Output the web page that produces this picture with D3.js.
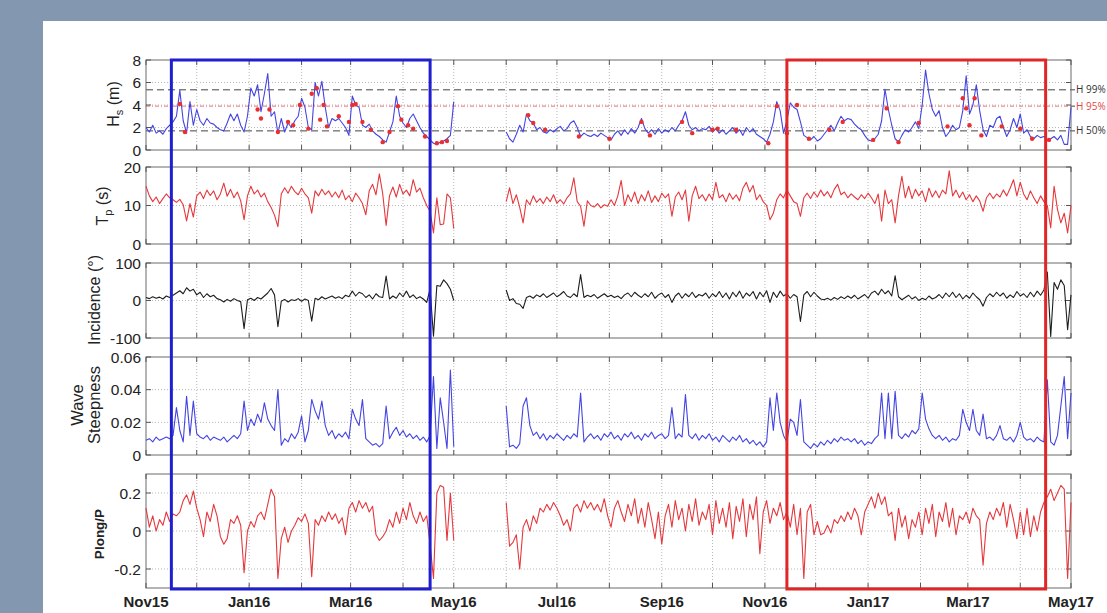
<!doctype html>
<html lang="en">
<head>
<meta charset="utf-8">
<title>Wave conditions Nov15 - May17</title>
<style>
  body { margin: 0; background: #8497b0; }
  svg { display: block; font-family: Arial, "Liberation Sans", sans-serif; }
</style>
</head>
<body>
<script src="https://d3js.org/d3.v7.min.js"></script>
<script>
// record is in two pieces (no data in May 2016), one sample every 2 days
var segStarts = ['2015-11-01', '2016-06-01'];
var stepDays = 2;

// significant wave height Hs (m)
var hsA = [2.0,1.6,2.2,1.5,1.7,1.4,1.9,2.2,2.5,3.0,
  5.3,2.6,1.5,4.3,2.2,3.6,2.6,2.2,2.8,2.4,
  2.3,2.0,1.8,1.7,2.4,3.2,2.6,3.2,2.2,1.6,
  3.0,5.5,4.8,5.8,3.4,5.0,6.8,3.0,3.4,1.5,
  2.8,1.6,2.4,2.0,2.6,3.0,4.6,3.8,2.0,1.8,
  6.0,4.8,6.1,3.8,2.0,2.8,2.6,2.8,2.4,2.0,
  1.3,4.8,4.0,3.8,2.2,2.0,2.3,1.7,1.4,1.2,
  0.9,0.7,1.6,2.5,4.8,3.0,2.4,2.0,2.8,3.2,
  2.6,2.0,1.5,1.2,0.9,0.6,0.5,0.7,0.8,1.0,
  1.3,4.3];
var hsB = [1.6,1.0,0.7,1.4,2.2,1.6,3.2,2.6,2.4,1.8,
  2.0,1.6,1.5,1.8,1.6,1.9,2.1,1.7,1.9,2.4,
  2.6,2.0,1.2,1.5,1.3,1.2,1.4,1.2,1.5,1.3,
  1.1,0.9,1.4,1.7,1.3,1.8,1.4,1.9,1.5,2.0,
  2.8,1.9,1.5,1.8,1.4,1.9,1.5,1.8,1.6,2.0,
  1.7,2.2,2.6,3.4,2.2,1.8,2.0,1.7,1.9,1.8,
  2.1,1.6,1.9,1.5,1.8,1.4,1.7,2.0,1.5,1.8,
  1.3,2.0,1.6,1.9,1.4,1.2,1.0,0.7,1.4,2.5,
  4.3,3.5,1.5,2.6,4.2,3.8,3.6,2.5,1.3,1.1,
  0.9,1.2,0.8,1.0,1.4,1.8,2.2,1.7,2.4,3.0,
  2.6,2.8,2.7,2.3,2.0,1.8,1.3,0.9,0.8,1.0,
  1.4,2.6,5.4,3.6,2.2,1.0,0.7,1.3,1.8,1.6,
  2.0,2.5,1.9,4.0,7.1,5.0,3.6,3.0,3.5,2.0,
  1.2,1.6,2.2,1.8,2.0,3.5,6.6,3.2,4.0,5.8,
  3.5,1.8,1.2,2.2,2.0,2.8,3.0,2.0,1.2,1.8,
  2.8,2.0,3.2,1.5,1.8,1.2,1.0,1.3,1.1,1.2,
  0.9,1.0,1.2,0.9,1.3,0.5,0.5,3.8];

// storm peaks marked on the Hs panel
var peakDates = ['2015-11-21','2015-11-24','2016-01-06','2016-01-08','2016-01-13','2016-01-18',
  '2016-01-24','2016-01-27','2016-01-31','2016-02-05','2016-02-07','2016-02-10','2016-02-12',
  '2016-02-14','2016-02-16','2016-02-23','2016-02-29','2016-03-02','2016-03-04','2016-03-08',
  '2016-03-13','2016-03-20','2016-03-24','2016-03-29','2016-03-31','2016-04-04','2016-04-07',
  '2016-04-14','2016-04-21','2016-04-24','2016-04-27',
  '2016-06-14','2016-06-17','2016-06-24','2016-07-14','2016-08-01','2016-08-20','2016-08-25',
  '2016-09-13','2016-09-19','2016-10-01','2016-10-04','2016-10-15','2016-11-03','2016-11-08',
  '2016-11-14','2016-11-20','2016-11-27','2016-12-09','2016-12-17','2017-01-04','2017-01-12',
  '2017-01-19','2017-01-31','2017-02-17','2017-02-26','2017-02-28','2017-03-02','2017-03-05',
  '2017-03-09','2017-03-21','2017-04-01','2017-04-08','2017-04-18'];
var peakValues = [4.1,1.6,3.6,2.8,3.6,1.6,
  2.5,2.2,4.0,1.9,5.0,5.5,2.7,
  4.0,2.1,3.0,2.5,4.0,4.1,2.5,
  1.8,0.7,1.6,3.9,2.7,2.2,1.9,
  1.2,0.6,0.7,0.8,
  3.1,2.4,1.8,1.2,1.0,2.5,1.3,
  2.5,1.5,1.8,1.9,1.8,0.6,3.9,
  1.5,4.0,1.0,1.8,2.5,0.9,3.7,
  0.7,2.4,2.1,4.6,3.7,2.2,4.6,
  1.3,2.1,1.9,1.0,0.9];

// Hs percentiles
var hsLevelNames = ['H 99%', 'H 95%', 'H 50%'];
var hsLevelValues = [5.35, 3.9, 1.7];

// peak period Tp (s)
var tpA = [15.0,12.5,11.0,12.2,10.5,11.8,13.0,12.0,11.5,10.8,
  11.6,10.2,6.0,10.5,7.0,12.5,13.5,11.8,14.0,12.6,
  13.8,11.5,13.0,15.8,12.4,14.2,12.0,13.5,11.2,6.3,
  12.5,15.0,13.0,14.0,12.2,13.2,11.0,9.5,7.5,4.5,
  13.0,14.6,13.2,15.0,13.6,12.8,14.5,13.0,12.0,8.0,
  13.8,12.5,14.2,12.8,13.8,12.2,13.5,12.0,14.0,11.5,
  12.6,11.0,13.2,12.0,10.5,7.6,13.8,15.5,12.8,18.2,
  13.0,4.8,12.5,14.8,12.2,15.5,13.0,14.0,12.5,16.7,
  13.5,14.5,12.0,10.0,8.5,2.9,12.0,5.0,5.2,13.0,
  12.0,4.0];
var tpB = [11.0,14.6,10.5,12.8,9.5,5.5,11.5,10.2,12.5,10.8,
  11.8,10.5,12.2,11.0,12.8,10.6,11.5,10.4,12.0,13.0,
  17.2,11.0,9.8,4.6,11.2,10.0,9.6,10.5,9.4,10.2,
  9.8,11.5,10.0,12.5,16.5,10.0,12.8,11.0,13.5,10.5,
  12.8,11.2,13.8,10.8,12.5,11.0,13.2,12.0,13.0,7.2,
  12.2,13.5,11.5,14.0,5.9,12.5,15.0,11.8,12.8,11.2,
  13.0,11.5,16.0,12.0,12.8,11.0,13.2,11.6,12.8,11.2,
  14.5,16.0,13.5,15.2,11.5,12.8,11.0,10.0,6.3,8.0,
  11.5,13.0,12.0,14.0,12.5,11.0,10.5,7.2,12.0,13.2,
  11.8,13.5,12.2,14.0,12.5,13.6,12.0,14.2,15.5,12.8,
  13.5,12.0,13.0,12.2,11.5,12.8,11.8,13.2,12.0,10.5,
  13.0,5.9,14.0,10.5,11.5,5.5,12.5,17.6,12.0,15.0,
  11.8,14.2,12.5,13.8,11.0,14.5,12.2,13.8,12.0,14.0,
  13.0,19.0,12.5,14.0,12.0,13.5,11.5,12.8,11.0,12.5,
  11.2,8.5,12.0,13.2,11.8,13.0,12.2,14.0,12.5,14.5,
  16.7,12.5,16.0,13.0,11.5,13.8,12.0,10.5,12.5,11.0,
  10.0,4.2,15.0,9.0,5.5,8.0,2.9,10.0];

// wave incidence (deg)
var incA = [8,5,10,6,9,4,12,8,14,20,
  26,18,34,25,30,15,22,8,18,10,
  14,5,2,-4,3,-2,5,0,-3,-75,
  2,6,0,8,4,12,20,32,15,-70,
  -2,3,-4,2,0,5,-2,4,0,-55,
  6,2,10,4,8,12,6,10,5,14,
  10,25,12,22,18,8,15,4,18,10,
  8,65,4,12,6,20,10,25,8,15,
  5,10,4,-5,30,-95,40,38,55,45,
  30,0];
var incB = [28,0,5,-8,-10,-21,8,12,6,15,
  10,18,8,14,20,10,16,24,12,8,
  18,10,69,8,14,10,16,6,12,18,
  10,14,8,12,5,15,20,10,22,14,
  8,18,10,22,6,15,20,8,16,-5,
  12,20,6,18,10,22,8,16,12,20,
  6,18,10,24,8,20,4,22,10,25,
  6,20,12,24,4,22,10,26,-5,22,
  8,25,12,18,6,16,10,-56,15,24,
  10,22,12,4,2,6,1,8,3,10,
  5,12,6,14,4,10,16,6,20,25,
  15,30,18,26,12,66,10,2,8,14,
  4,10,0,6,2,12,4,8,16,6,
  20,10,22,8,18,4,14,6,20,10,
  2,-15,8,18,10,22,12,20,6,15,
  8,24,12,18,8,22,10,25,14,28,
  76,-96,48,30,55,40,-78,15];

// wave steepness
var stA = [.009,.010,.008,.011,.009,.010,.011,.010,.012,.029,
  .015,.008,.036,.012,.033,.013,.011,.010,.012,.009,
  .011,.010,.009,.011,.008,.010,.012,.010,.013,.033,
  .015,.022,.018,.025,.020,.032,.022,.018,.015,.040,
  .006,.010,.008,.013,.010,.014,.024,.008,.015,.034,
  .027,.022,.033,.018,.012,.015,.010,.013,.011,.014,
  .010,.028,.022,.018,.034,.010,.008,.006,.007,.005,
  .007,.030,.010,.014,.017,.012,.015,.011,.013,.010,
  .012,.009,.011,.008,.012,.048,.004,.035,.020,.004,
  .052,.005];
var stB = [.030,.005,.006,.004,.007,.030,.035,.018,.012,.014,
  .010,.013,.009,.012,.010,.013,.011,.009,.012,.010,
  .013,.011,.038,.008,.011,.013,.010,.012,.009,.013,
  .011,.014,.010,.012,.009,.013,.011,.014,.010,.012,
  .009,.013,.011,.014,.010,.012,.013,.010,.012,.029,
  .010,.013,.011,.037,.012,.010,.013,.009,.012,.010,
  .013,.009,.011,.008,.012,.010,.008,.011,.009,.012,
  .008,.010,.007,.009,.006,.008,.005,.008,.035,.015,
  .038,.020,.012,.008,.022,.020,.012,.034,.008,.006,
  .004,.007,.005,.008,.006,.009,.007,.010,.008,.011,
  .009,.010,.008,.010,.007,.009,.006,.008,.007,.010,
  .012,.038,.010,.038,.010,.039,.012,.010,.013,.011,
  .015,.013,.016,.038,.022,.016,.012,.010,.012,.009,
  .011,.008,.010,.009,.012,.028,.020,.015,.028,.015,
  .012,.025,.010,.011,.009,.012,.018,.010,.009,.011,
  .008,.012,.020,.011,.009,.010,.008,.011,.009,.008,
  .046,.008,.006,.012,.030,.048,.010,.038];

// longshore power ratio Plong/P
var plA = [.12,.02,.08,.00,.06,.03,.10,.05,.09,.08,
  .10,.16,.19,.14,.21,.12,.06,-.03,.10,.05,
  .14,.08,-.03,-.07,-.04,.06,.04,.08,.03,-.22,
  .00,.05,.02,.08,.10,.06,.14,.22,.18,-.25,
  -.04,.02,-.06,.00,.03,.07,.05,.09,.04,-.24,
  .06,.03,.08,.05,.10,.06,.09,.04,.07,-.02,
  .12,.15,.10,.16,.12,.15,.10,.13,-.02,-.05,
  -.03,.00,.06,.02,.10,.04,.12,.06,.15,.08,
  .04,.10,.05,.08,-.07,-.25,.20,.24,.23,-.05,
  .20,-.05];
var plB = [.15,-.08,-.06,-.02,-.20,.02,.06,.00,.08,.04,
  .12,.10,.14,.11,.15,.12,.08,.03,.06,.00,
  .12,.14,.10,.16,.12,.15,.11,.14,.10,.17,
  .08,.02,.12,.16,.10,.05,.14,.08,.17,.04,
  .12,.02,.15,.06,-.04,.10,-.07,.08,.14,.02,
  .16,.06,.12,.00,.14,.05,.17,.03,.10,.06,
  .14,-.02,.16,.04,.12,.02,.15,-.04,.13,.05,
  .17,-.03,.14,.06,.18,-.12,.10,.16,.04,.12,
  .08,.15,.06,.10,.02,.14,-.02,.12,-.25,.10,
  .14,-.02,.05,-.02,-.01,.03,-.01,.06,.04,.08,
  .05,.10,.06,.12,.08,-.02,.10,.14,.18,.12,
  .20,.14,.18,.08,.10,-.05,.12,.02,.08,-.04,
  .06,.02,.10,-.02,.12,.04,.14,-.03,.10,.05,
  .15,.02,.12,-.02,.08,.06,.10,.04,.12,.08,
  .06,-.18,.04,.10,.06,.12,.08,.15,.02,.14,
  .06,-.04,.10,-.02,.12,-.03,.08,.00,.10,.15,
  .18,.22,.16,.20,.24,.22,-.25,.15];

// winter periods boxed on the figure
var boxStarts = ['2015-11-16', '2016-11-14'];
var boxEnds = ['2016-04-17', '2017-04-16'];
var boxColors = ['#1f1fd0', '#e02626'];

var W = 1107, H = 613;
var parseDate = d3.timeParse('%Y-%m-%d');

var svg = d3.select('body').append('svg')
    .attr('width', W)
    .attr('height', H);

// white sheet over the slate background
svg.append('rect')
    .attr('x', 43).attr('y', 21)
    .attr('width', W - 43).attr('height', H - 21)
    .attr('fill', '#fff');

var x = d3.scaleTime()
    .domain([parseDate('2015-11-01'), parseDate('2017-05-01')])
    .range([146, 1071]);

var months = d3.timeMonth.range(x.domain()[0], d3.timeDay.offset(x.domain()[1], 1));

function toPoints(start, values) {
  var t0 = parseDate(start);
  return values.map(function(v, i) {
    return { date: d3.timeDay.offset(t0, i * stepDays), v: v };
  });
}

var panels = [
  { top: 60, bottom: 150, domain: [0, 8], ticks: [0, 2, 4, 6, 8], series: [hsA, hsB], color: '#4444e2' },
  { top: 167, bottom: 244, domain: [0, 20], ticks: [0, 10, 20], series: [tpA, tpB], color: '#e5383c' },
  { top: 263, bottom: 338, domain: [-100, 100], ticks: [-100, 0, 100], series: [incA, incB], color: '#1e1e1e' },
  { top: 357, bottom: 455, domain: [0, 0.06], ticks: [0, 0.02, 0.04, 0.06], series: [stA, stB], color: '#4444e2' },
  { top: 474, bottom: 588, domain: [-0.3, 0.3], ticks: [-0.2, 0, 0.2], series: [plA, plB], color: '#e5383c' }
];

var x0 = x.range()[0], x1 = x.range()[1];

panels.forEach(function(p, pi) {
  var y = d3.scaleLinear().domain(p.domain).range([p.bottom, p.top]);
  var g = svg.append('g');

  // dotted grid
  g.selectAll('.vgrid').data(months.slice(1, -1)).enter().append('line')
      .attr('x1', function(d) { return x(d); }).attr('x2', function(d) { return x(d); })
      .attr('y1', p.top).attr('y2', p.bottom)
      .attr('stroke', '#b8b8b8').attr('stroke-dasharray', '1,2');
  g.selectAll('.hgrid').data(p.ticks.filter(function(t) { return y(t) > p.top + 1 && y(t) < p.bottom - 1; }))
    .enter().append('line')
      .attr('x1', x0).attr('x2', x1)
      .attr('y1', function(d) { return y(d); }).attr('y2', function(d) { return y(d); })
      .attr('stroke', '#b8b8b8').attr('stroke-dasharray', '1,2');

  // Hs percentile lines
  if (pi === 0) {
    hsLevelValues.forEach(function(v, i) {
      var c = i === 1 ? '#ee7070' : '#444';
      g.append('line')
          .attr('x1', x0).attr('x2', x1)
          .attr('y1', y(v)).attr('y2', y(v))
          .attr('stroke', c).attr('stroke-width', 1)
          .attr('stroke-dasharray', i === 1 ? '4,2,1,2' : '7,4');
      g.append('line')
          .attr('x1', x1).attr('x2', x1 + 4)
          .attr('y1', y(v)).attr('y2', y(v))
          .attr('stroke', '#444');
      g.append('text')
          .attr('x', x1 + 5).attr('y', y(v) + 3.5)
          .attr('font-size', 10)
          .attr('font-family', '"Open Sans", "DejaVu Sans", sans-serif')
          .attr('fill', i === 1 ? '#e04848' : '#333')
          .text(hsLevelNames[i]);
    });
  }

  // frame
  g.append('rect')
      .attr('x', x0).attr('y', p.top)
      .attr('width', x1 - x0).attr('height', p.bottom - p.top)
      .attr('fill', 'none').attr('stroke', '#6a6a6a').attr('stroke-width', 1);

  // inward ticks, MATLAB style
  months.forEach(function(m) {
    var xx = x(m);
    g.append('line').attr('x1', xx).attr('x2', xx).attr('y1', p.bottom).attr('y2', p.bottom - 5).attr('stroke', '#555');
    g.append('line').attr('x1', xx).attr('x2', xx).attr('y1', p.top).attr('y2', p.top + 5).attr('stroke', '#555');
  });
  p.ticks.forEach(function(t) {
    g.append('line').attr('x1', x0).attr('x2', x0 + 5).attr('y1', y(t)).attr('y2', y(t)).attr('stroke', '#555');
    g.append('line').attr('x1', x1).attr('x2', x1 - 5).attr('y1', y(t)).attr('y2', y(t)).attr('stroke', '#555');
  });

  // tick labels
  g.selectAll('.ylab').data(p.ticks).enter().append('text')
      .attr('x', 141)
      .attr('y', function(d) { return y(d); })
      .attr('dy', '0.36em')
      .attr('text-anchor', 'end')
      .attr('font-size', 15.5)
      .attr('fill', '#222')
      .text(function(d) { return d === 0 ? '0' : String(d); });

  // data
  var line = d3.line()
      .x(function(d) { return x(d.date); })
      .y(function(d) { return y(d.v); });
  p.series.forEach(function(vals, si) {
    g.append('path')
        .datum(toPoints(segStarts[si], vals))
        .attr('fill', 'none')
        .attr('stroke', p.color)
        .attr('stroke-width', 1.1)
        .attr('stroke-linejoin', 'round')
        .attr('d', line);
  });

  if (pi === 0) {
    g.selectAll('.peak').data(peakDates).enter().append('circle')
        .attr('cx', function(d) { return x(parseDate(d)); })
        .attr('cy', function(d, i) { return y(peakValues[i]); })
        .attr('r', 2.2)
        .attr('fill', '#e83030');
  }
});

// month labels, every second month
svg.selectAll('.xlab').data(months.filter(function(m) { return m.getMonth() % 2 === 0; }))
  .enter().append('text')
    .attr('x', function(d) { return x(d); })
    .attr('y', 607)
    .attr('text-anchor', 'middle')
    .attr('font-size', 15)
    .attr('font-weight', 'bold')
    .attr('fill', '#222')
    .text(d3.timeFormat('%b%y'));

// winter boxes
boxStarts.forEach(function(s, i) {
  var xa = x(parseDate(s)), xb = x(parseDate(boxEnds[i]));
  svg.append('rect')
      .attr('x', xa).attr('y', 60)
      .attr('width', xb - xa).attr('height', 589 - 60)
      .attr('fill', 'none')
      .attr('stroke', boxColors[i])
      .attr('stroke-width', 3);
});

// y axis titles
function yTitle(xPos, yPos, size, weight) {
  return svg.append('text')
      .attr('transform', 'translate(' + xPos + ',' + yPos + ') rotate(-90)')
      .attr('text-anchor', 'middle')
      .attr('font-size', size)
      .attr('font-weight', weight || 'normal')
      .attr('fill', '#222');
}
var t1 = yTitle(119, 104, 16);
t1.append('tspan').text('H');
t1.append('tspan').attr('dy', 4).attr('font-size', 11).text('s');
t1.append('tspan').attr('dy', -4).text(' (m)');

var t2 = yTitle(108, 206, 16);
t2.append('tspan').text('T');
t2.append('tspan').attr('dy', 4).attr('font-size', 11).text('p');
t2.append('tspan').attr('dy', -4).text(' (s)');

yTitle(100, 300, 16).text('Incidence (\u00b0)');
yTitle(83, 405, 16.5).text('Wave');
yTitle(100, 405, 16.5).text('Steepness');
yTitle(104, 534, 13.5, 'bold').text('Plong/P');
</script>
</body>
</html>
